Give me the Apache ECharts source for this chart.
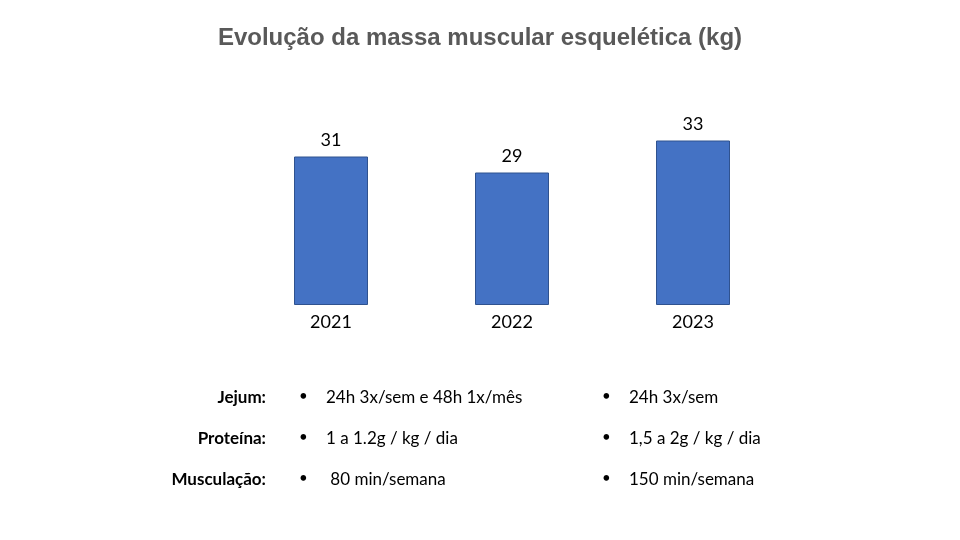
<!DOCTYPE html>
<html>
<head>
<meta charset="utf-8">
<script src="https://cdn.jsdelivr.net/npm/echarts@6/dist/echarts.min.js"></script>
<style>html,body{margin:0;padding:0;background:#fff}#c{width:960px;height:540px}</style>
</head>
<body>
<div id="c"></div>
<script>
const titleText = 'Evolução da massa muscular esquelética (kg)';
const years = ['2021', '2022', '2023'];
const muscleMass = [31, 29, 33];
const rowLabels = ['Jejum:', 'Proteína:', 'Musculação:'];
const before2023 = ['24h 3x/sem e 48h 1x/mês', '1 a 1.2g / kg / dia', ' 80 min/semana'];
const in2023 = ['24h 3x/sem', '1,5 a 2g / kg / dia', '150 min/semana'];

const chart = echarts.init(document.getElementById('c'));
const FONT = 'Lato';
const rowY = [399, 440, 481];
const graphics = [];
rowLabels.forEach((t, i) => {
  const top = rowY[i] - 10;
  graphics.push({ type: 'text', right: 960 - 266, top: top,
    style: { text: t, font: 'bold 17px ' + FONT, fill: '#000', textAlign: 'right' } });
  graphics.push({ type: 'text', left: 299, top: top,
    style: { text: '•', font: '15px ' + FONT, fill: '#000' } });
  graphics.push({ type: 'text', left: 326, top: top,
    style: { text: before2023[i], font: '17px ' + FONT, fill: '#000' } });
  graphics.push({ type: 'text', left: 602, top: top,
    style: { text: '•', font: '15px ' + FONT, fill: '#000' } });
  graphics.push({ type: 'text', left: 629, top: top,
    style: { text: in2023[i], font: '17px ' + FONT, fill: '#000' } });
});

chart.setOption({
  animation: false,
  backgroundColor: '#fff',
  title: {
    text: titleText, left: 'center', top: 26, padding: 0,
    textStyle: { fontFamily: 'Liberation Sans', fontWeight: 'bold', fontSize: 24, color: '#595959' }
  },
  grid: { left: 240.5, width: 543, top: 104.5, height: 200 },
  xAxis: {
    type: 'category', data: years,
    axisLine: { show: false }, axisTick: { show: false },
    axisLabel: { fontFamily: FONT, fontSize: 18, color: '#000', margin: 9 }
  },
  yAxis: { type: 'value', min: 12.5, max: 37.5, show: false, splitLine: { show: false } },
  series: [{
    type: 'bar', data: muscleMass, barWidth: 74,
    itemStyle: { color: '#4472C4', borderColor: '#2F528F', borderWidth: 1 },
    label: { show: true, position: 'top', distance: 7, fontFamily: FONT, fontSize: 18, color: '#000' }
  }],
  graphic: graphics
});
</script>
</body>
</html>
